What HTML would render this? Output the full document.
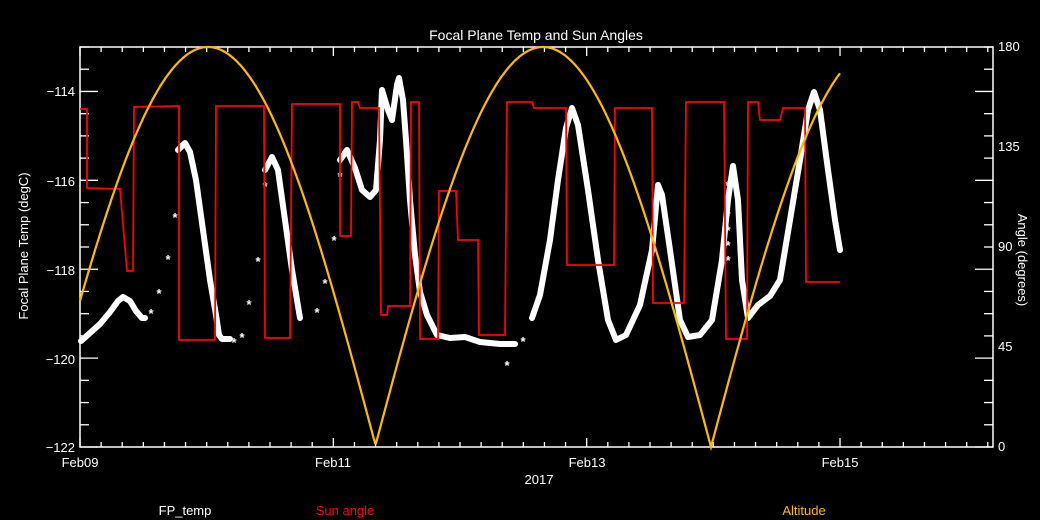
<!DOCTYPE html>
<html><head><meta charset="utf-8"><style>
html,body{margin:0;padding:0;background:#000;}
svg{display:block;font-family:"Liberation Sans",sans-serif;}
</style></head><body>
<svg id="sv" width="1040" height="520" viewBox="0 0 1040 520" xmlns="http://www.w3.org/2000/svg">
<rect width="1040" height="520" fill="#000"/>
<text x="536" y="40" fill="#fff" font-size="14" text-anchor="middle">Focal Plane Temp and Sun Angles</text>
<g id="ticks" stroke="#fff" stroke-width="1.3" fill="none"></g>
<rect x="80" y="47" width="913" height="400" fill="none" stroke="#fff" stroke-width="1.5"/>
<g fill="#fff" font-size="13">
<text x="75" y="96" text-anchor="end">−114</text>
<text x="75" y="186" text-anchor="end">−116</text>
<text x="75" y="275" text-anchor="end">−118</text>
<text x="75" y="364" text-anchor="end">−120</text>
<text x="75" y="452" text-anchor="end">−122</text>
<text x="998" y="51">180</text>
<text x="998" y="151">135</text>
<text x="998" y="251">90</text>
<text x="998" y="351">45</text>
<text x="998" y="451">0</text>
<text x="80" y="467" text-anchor="middle">Feb09</text>
<text x="333" y="467" text-anchor="middle">Feb11</text>
<text x="587" y="467" text-anchor="middle">Feb13</text>
<text x="840" y="467" text-anchor="middle">Feb15</text>
<text x="539" y="484" text-anchor="middle">2017</text>
<text transform="translate(28,246) rotate(-90)" text-anchor="middle">Focal Plane Temp (degC)</text>
<text transform="translate(1018,260) rotate(90)" text-anchor="middle">Angle (degrees)</text>
<text x="185" y="515" text-anchor="middle">FP_temp</text>
<text x="345" y="515" text-anchor="middle" fill="#f00">Sun angle</text>
<text x="804" y="515" text-anchor="middle" fill="#fb0">Altitude</text>
</g>
<g stroke="#fff" stroke-width="6" fill="none" stroke-linejoin="round" stroke-linecap="round">
<polyline points="81,341 90,333 100,324 110,312 118,301 123,297 130,301 136,311 142,318 145,318"/>
<polyline points="178,150 185,143 190,152 196,180 203,230 210,280 216,315 219,335 222,339 230,339"/>
<polyline points="265,170 272,157 278,170 285,220 292,270 300,318"/>
<polyline points="340,160 347,150 355,168 362,190 370,197 376,190 380,140 382,90 388,110 392,120 397,85 399,78 403,100 406,140 410,200 415,255 420,292 427,315 437,335 450,338 465,337 480,342 500,344 515,344"/>
<polyline points="532,318 540,295 550,240 558,180 566,128 572,108 578,125 588,190 598,260 608,320 616,340 626,335 640,305 652,250 658,185 662,195 670,250 680,320 688,337 700,335 712,320 722,260 728,200 733,166 738,200 742,280 748,318 758,305 770,296 780,280 790,220 800,160 808,110 814,92 820,110 828,170 835,220 840,250"/>
</g>
<g fill="#fff" font-size="13" font-weight="bold" text-anchor="middle">
<text x="175" y="222">*</text><text x="168" y="264">*</text><text x="159" y="298">*</text><text x="151" y="318">*</text>
<text x="234" y="347">*</text><text x="242" y="342">*</text><text x="249" y="309">*</text><text x="258" y="266">*</text>
<text x="317" y="317">*</text><text x="325" y="288">*</text><text x="334" y="245">*</text>
<text x="507" y="370">*</text><text x="523" y="346">*</text><text x="265" y="191">*</text><text x="340" y="181">*</text>
<text x="728" y="190">*</text><text x="728" y="205">*</text><text x="728" y="220">*</text><text x="728" y="235">*</text><text x="728" y="250">*</text><text x="728" y="265">*</text>
</g>
<polyline fill="none" stroke="#f00" stroke-width="1.8" points="80,109 87,109 87,188 120,189 127,271 133,271 134,107 179,106 179,340 215,340 216,106 264,106 265,338 290,338 292,104 340,104 340,236 351,236 352,102 358,102 360,108 379,108 381,315 387,315 388,306 410,306 411,102 419,102 420,339 438,339 439,191 456,191 458,240 478,240 479,335 505,335 507,102 532,102 534,108 566,108 567,265 614,265 615,108 652,108 653,303 684,303 686,102 724,102 726,339 747,339 748,102 758,102 760,120 780,120 783,108 805,108 806,282 840,282"/>
<path id="alt" fill="none" stroke="#fb0" stroke-width="2.2"/>
<script>
(function(){
var NS='http://www.w3.org/2000/svg';
var g=document.getElementById('ticks');
function L(a,b,c,d){var l=document.createElementNS(NS,'line');l.setAttribute('x1',a);l.setAttribute('y1',b);l.setAttribute('x2',c);l.setAttribute('y2',d);g.appendChild(l);}
for(var i=0;i<=18;i++){var y=447-i*400/18;L(80,y,80+(i%4==0?18:9),y);}
for(var i=0;i<=18;i++){var y=447-i*400/18;L(993,y,993-(i%4==0?18:9),y);}
for(var i=0;i<=43;i++){var x=80+i*126.67/6;if(x>993)break;var m=(i%12==0)?9:5;L(x,447,x,447-m);L(x,47,x,47+m);}
var d='';for(var x=80;x<=840;x+=1){var p=x<376?208:543;var a=180*Math.abs(Math.cos(Math.PI*(x-p)/(2*168)));var y=447-a*400/180;d+=(x==80?'M':'L')+x+','+y.toFixed(1);}
document.getElementById('alt').setAttribute('d',d);
})();
</script>
</svg>
</body></html>
